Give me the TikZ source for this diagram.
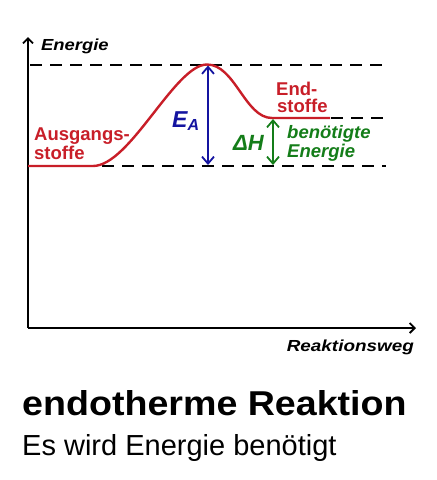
\documentclass[tikz,border=0pt]{standalone}
\usepackage{fontspec}
\setmainfont{Liberation Sans}
\usetikzlibrary{arrows.meta}
\definecolor{cred}{RGB}{200,30,40}
\definecolor{cblue}{RGB}{20,20,160}
\definecolor{cgreen}{RGB}{20,125,25}
\tikzset{
  axis/.style={line width=2.3pt,-{Straight Barb[length=5pt,width=10pt,line width=1.8pt]}},
  guide/.style={line width=2pt,dash pattern=on 12pt off 8pt},
  curve/.style={cred,line width=2.4pt},
  dimarrow/.style={line width=2.3pt,{Straight Barb[length=7pt,width=12pt,line width=1.8pt]}-{Straight Barb[length=7pt,width=12pt,line width=1.8pt]}},
  lbl/.style={inner sep=0pt,anchor=base west},
}
\newcommand{\fs}[1]{\fontsize{#1}{#1}\selectfont}
\begin{document}
\begin{tikzpicture}[x=1pt,y=-1pt]
\useasboundingbox (0,0) rectangle (437,480);
% axes
\coordinate (origin) at (28,328);
\coordinate (ytip) at (28,37);
\coordinate (xtip) at (416,328);
\draw[axis] (origin) -- (ytip);
\draw[axis] (origin) -- (xtip);
% dashed levels
\coordinate (topL) at (30,64.5);
\coordinate (topR) at (388,64.5);
\coordinate (botL) at (102,166);
\coordinate (botR) at (386,166);
\coordinate (midL) at (331,118);
\coordinate (midR) at (388,118);
\draw[guide] (topL) -- (topR);
\draw[guide] (botL) -- (botR);
\draw[guide] (midL) -- (midR);
% energy curve
\coordinate (start) at (28,166);
\coordinate (rise) at (93,166);
\coordinate (peak) at (207,64.5);
\coordinate (endc) at (272,118);
\coordinate (endf) at (330,118);
\draw[curve] (start) -- (rise) .. controls (130,166) and (175,64.5) .. (peak)
  .. controls (235,64.5) and (245,118) .. (endc) -- (endf);
% arrows
\coordinate (eaTop) at (208,65.5);
\coordinate (eaBot) at (208,165);
\coordinate (dhTop) at (273,119);
\coordinate (dhBot) at (273,165);
\draw[dimarrow,cblue] (eaTop) -- (eaBot);
\draw[dimarrow,cgreen] (dhTop) -- (dhBot);
% labels
\node[lbl] (energie) at (41,50) {\fs{16}\bfseries\itshape\scalebox{1.15}[1]{Energie}};
\node[lbl,anchor=base east] (weg) at (414,351) {\fs{16}\bfseries\itshape\scalebox{1.18}[1]{Reaktionsweg}};
\node[lbl,cred] (aus1) at (34,140) {\fs{18.5}\bfseries Ausgangs-};
\node[lbl,cred] (aus2) at (34,159) {\fs{18.5}\bfseries stoffe};
\node[lbl,cred] (end1) at (276,95) {\fs{18.5}\bfseries End-};
\node[lbl,cred] (end2) at (277,112) {\fs{18.5}\bfseries stoffe};
\node[lbl,cgreen] (ben1) at (287,138) {\fs{18}\bfseries\itshape\scalebox{1.03}[1]{benötigte}};
\node[lbl,cgreen] (ben2) at (287,157) {\fs{18.5}\bfseries\itshape Energie};
\node[lbl,cgreen] (dh) at (233,150) {\fs{22}\bfseries\itshape ΔH};
\node[lbl,cblue] (ea) at (172,127) {\fs{23}\bfseries\itshape E\raisebox{-0.3ex}{\fs{16}A}};
\node[lbl] (title) at (22,415) {\fs{34.5}\bfseries\scalebox{1.09}[1]{endotherme Reaktion}};
\node[lbl] (sub) at (22,455) {\fs{29}Es wird Energie benötigt};
\end{tikzpicture}
\end{document}
